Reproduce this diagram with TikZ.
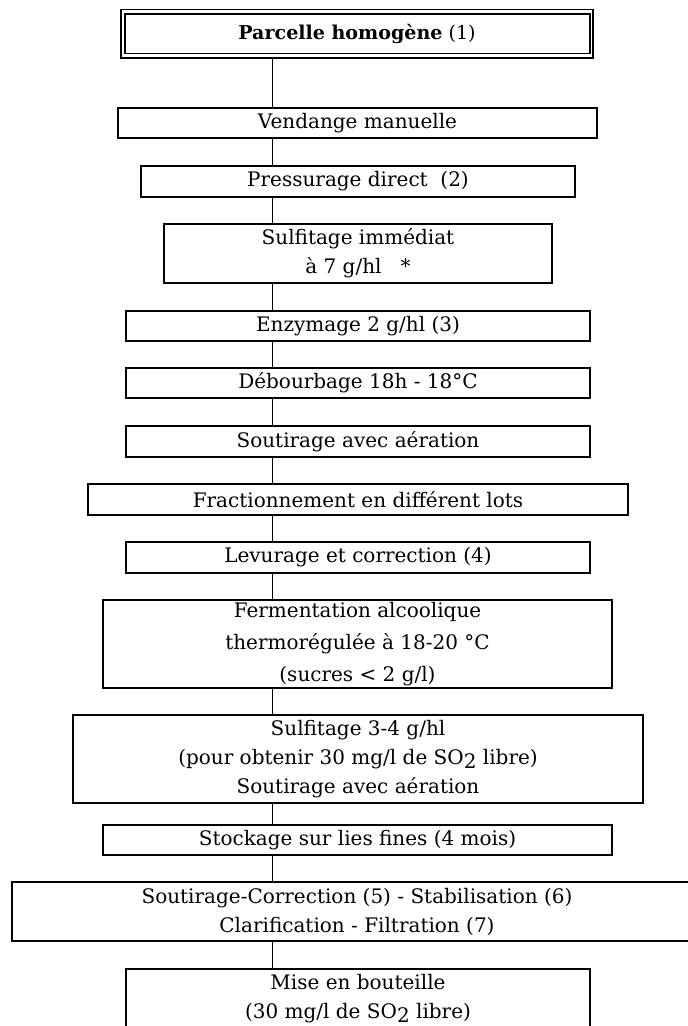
\documentclass[tikz,border=0pt]{standalone}
\usepackage{fontspec}
\setmainfont{DejaVu Serif}
\begin{document}
\begin{tikzpicture}[x=0.75pt,y=-0.75pt,
  box/.style 2 args={draw,line width=1.3pt,inner sep=0pt,outer sep=0pt,
    minimum width=#1*0.75pt,minimum height=#2*0.75pt,align=center,
    font=\fontsize{15pt}{21.8pt}\selectfont},
  link/.style={line width=0.6pt}]
\clip (0,0) rectangle (688,1026);
\fill[white] (0,0) rectangle (688,1026);
\coordinate (cx) at (272,0);
% title box with double border
\node[box={472}{48.2},font=\fontsize{14.3pt}{20pt}\selectfont] (n1) at (357,33.6) {\textbf{Parcelle homogène} (1)};
\draw[line width=1.3pt] (125,13.7) rectangle (590,53.5);
\node[box={479}{30}] (n2) at (357.5,123) {Vendange manuelle};
\node[box={434}{31}] (n3) at (358,181.5) {Pressurage direct\ \ (2)};
\node[box={388}{59}] (n4) at (358,253.5) {Sulfitage immédiat\\à 7 g/hl\ \ \ *};
\node[box={464}{30}] (n5) at (358,326) {Enzymage 2 g/hl (3)};
\node[box={464}{30}] (n6) at (358,383) {Débourbage 18h - 18°C};
\node[box={464}{31}] (n7) at (358,441.5) {Soutirage avec aération};
\node[box={540}{31}] (n8) at (358,499.5) {Fractionnement en différent lots};
\node[box={464}{31}] (n9) at (358,557.5) {Levurage et correction (4)};
\node[box={509}{88},font=\fontsize{15pt}{24pt}\selectfont] (n10) at (357.5,644) {Fermentation alcoolique\\thermorégulée à 18-20 °C\\(sucres < 2 g/l)};
\node[box={570}{88}] (n11) at (358,759) {Sulfitage 3-4 g/hl\\(pour obtenir 30 mg/l de SO\raisebox{-0.35ex}{2} libre)\\Soutirage avec aération};
\node[box={509}{30}] (n12) at (357.5,840) {Stockage sur lies fines (4 mois)};
\node[box={690}{59}] (n13) at (357,911.5) {Soutirage-Correction (5) - Stabilisation (6)\\Clarification - Filtration (7)};
\node[box={464}{59}] (n14) at (358,998.5) {Mise en bouteille\\(30 mg/l de SO\raisebox{-0.35ex}{2} libre)};
\foreach \a/\b in {n1/n2,n2/n3,n3/n4,n4/n5,n5/n6,n6/n7,n7/n8,n8/n9,n9/n10,n10/n11,n11/n12,n12/n13,n13/n14}
  \draw[link] (\a.south -| cx) -- (\b.north -| cx);
\end{tikzpicture}
\end{document}
